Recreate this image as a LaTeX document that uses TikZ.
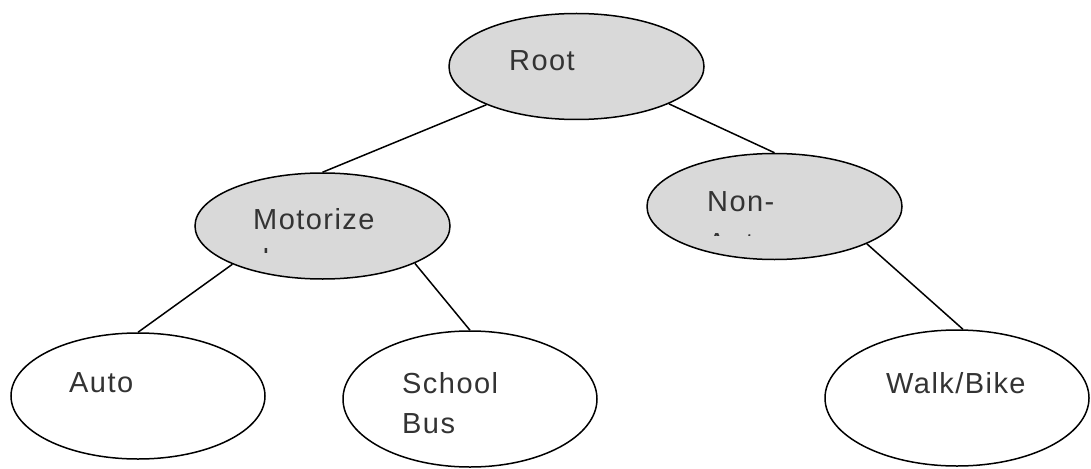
\documentclass[tikz,border=0pt]{standalone}
\usepackage{xcolor}
\usepackage{fontspec}
\setmainfont{Liberation Sans}
\newfontfamily\lblfont[LetterSpace=5]{Liberation Sans}
\usepackage{tikz}
\usetikzlibrary{shapes, arrows.meta, positioning}

\begin{document}
\begin{tikzpicture}
  [
    x=1pt, y=-1pt,
    Gray/.style={ellipse, draw=black, fill=gray!30, line width=1.5pt, inner sep=0pt, minimum width=255pt, minimum height=106pt},
    White/.style={ellipse, draw=black, fill=white, line width=1.5pt, inner sep=0pt},
    Lbl/.style={anchor=base west, inner sep=0pt, text=black!80, font=\lblfont\fontsize{29}{35}\selectfont},
    Edge/.style={draw=black, line width=1.5pt}
  ]
  \useasboundingbox (0,0) rectangle (1091,468);

  % Nodes
  \node[Gray] (root) at (576.5, 66.5) {};
  \node[Gray] (mot) at (322.5, 226) {};
  \node[Gray] (non) at (774.5, 206.5) {};

  \node[White, minimum width=254pt, minimum height=126pt] (auto) at (138, 396) {};
  \node[White, minimum width=254pt, minimum height=136pt] (bus) at (470, 399) {};
  \node[White, minimum width=264pt, minimum height=136pt] (walk) at (957, 398) {};

  % Labels
  \node[Lbl] (rootlbl) at (509, 71) {Root};
  \node[Lbl] (motlbl) at (253, 229) {Motorize};
  \node[Lbl] (nonlbl) at (707, 211) {Non-};
  \node[Lbl] (autolbl) at (69, 392) {Auto};
  \node[Lbl] (buslbl) at (402, 393) {School};
  \node[Lbl] (buslbl2) at (402, 433) {Bus};
  \node[Lbl] (walklbl) at (886, 393) {Walk/Bike};

  % cut off second lines
  \begin{scope}
    \clip (200, 0) rectangle (450, 252);
    \node[Lbl] (motlbl2) at (253, 269) {d};
  \end{scope}
  \begin{scope}
    \clip (650, 0) rectangle (900, 235);
    \node[Lbl] (nonlbl2) at (707, 253) {Auto};
  \end{scope}

  % Lines
  \path [Edge] (root.203) -- (mot.north);
  \path [Edge] (root.-22.5) -- (non.north);
  \path [Edge] (mot.203) -- (auto.north);
  \path [Edge] (mot.-22.8) -- (bus.north);
  \path [Edge] (non.-22.5) -- (walk.85);

\end{tikzpicture}
\end{document}
